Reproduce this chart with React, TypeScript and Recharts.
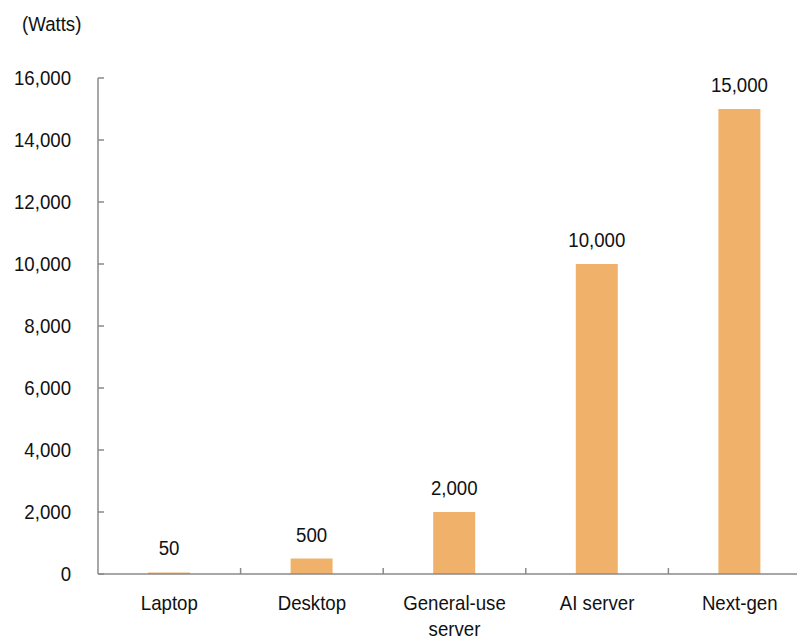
import React from 'react';
import { BarChart, Bar, XAxis, YAxis, LabelList } from 'recharts';

const categories = ['Laptop', 'Desktop', 'General-use\nserver', 'AI server', 'Next-gen'];
const watts = [50, 500, 2000, 10000, 15000];
const yTicks = [0, 2000, 4000, 6000, 8000, 10000, 12000, 14000, 16000];

const data = categories.map((name, i) => ({ name, watts: watts[i] }));

const CHART_W = 811;
const CHART_H = 640;
const PLOT_LEFT = 98;
const BAND = (CHART_W - PLOT_LEFT) / categories.length;
const AXIS_COLOR = '#8a8a8a';
const FONT = '"Liberation Sans", Arial, sans-serif';
const FONT_SIZE = 20.5;
const SQUEEZE = 0.91; // the labels use a slightly condensed face

const fmt = (v: number) => v.toLocaleString('en-US');

// text drawn at (x, y) baseline, compressed horizontally
const Txt = ({ x, y, anchor = 'middle', children }: any) => (
  <text
    transform={`translate(${x} ${y}) scale(${SQUEEZE} 1)`}
    textAnchor={anchor}
    fontSize={FONT_SIZE}
    fill="#111"
    fontFamily={FONT}
  >
    {children}
  </text>
);

const YTick = (props: any) => {
  const { x, y, payload } = props;
  return (
    <g>
      <line x1={x} y1={y} x2={x + 6} y2={y} stroke={AXIS_COLOR} strokeWidth={1.5} />
      <Txt x={x - 27} y={y + 7} anchor="end">
        {fmt(payload.value)}
      </Txt>
    </g>
  );
};

const XTick = (props: any) => {
  const { x, y, payload, index } = props;
  const lines = String(payload.value).split('\n');
  return (
    <g>
      {index > 0 && (
        <line x1={x - BAND / 2} y1={y} x2={x - BAND / 2} y2={y - 6} stroke={AXIS_COLOR} strokeWidth={1.5} />
      )}
      {lines.map((l, i) => (
        <Txt key={i} x={x} y={y + 36 + i * 26}>
          {l}
        </Txt>
      ))}
    </g>
  );
};

const ValueLabel = (props: any) => {
  const { x, y, width, value } = props;
  return (
    <Txt x={x + width / 2} y={y - 17}>
      {fmt(Number(value))}
    </Txt>
  );
};

export default function App() {
  return (
    <div style={{ position: 'absolute', left: 0, top: 0, width: 797, height: 640, overflow: 'hidden', background: '#fff' }}>
      <div
        style={{
          position: 'absolute',
          left: 22,
          top: 12,
          fontSize: FONT_SIZE,
          fontFamily: FONT,
          color: '#111',
          transform: `scaleX(${SQUEEZE})`,
          transformOrigin: 'left top',
        }}
      >
        (Watts)
      </div>
      <BarChart
        width={CHART_W}
        height={CHART_H}
        data={data}
        margin={{ top: 78, right: 0, bottom: 0, left: 0 }}
      >
        <XAxis
          dataKey="name"
          height={66}
          interval={0}
          tickSize={0}
          tickMargin={0}
          axisLine={{ stroke: AXIS_COLOR, strokeWidth: 1.5 }}
          tickLine={false}
          tick={<XTick />}
        />
        <YAxis
          width={PLOT_LEFT}
          domain={[0, 16000]}
          ticks={yTicks}
          interval={0}
          tickSize={0}
          tickMargin={0}
          axisLine={{ stroke: AXIS_COLOR, strokeWidth: 1.5 }}
          tickLine={false}
          tick={<YTick />}
        />
        <Bar dataKey="watts" fill="#F0B26B" barSize={42} isAnimationActive={false}>
          <LabelList dataKey="watts" content={<ValueLabel />} />
        </Bar>
      </BarChart>
    </div>
  );
}
